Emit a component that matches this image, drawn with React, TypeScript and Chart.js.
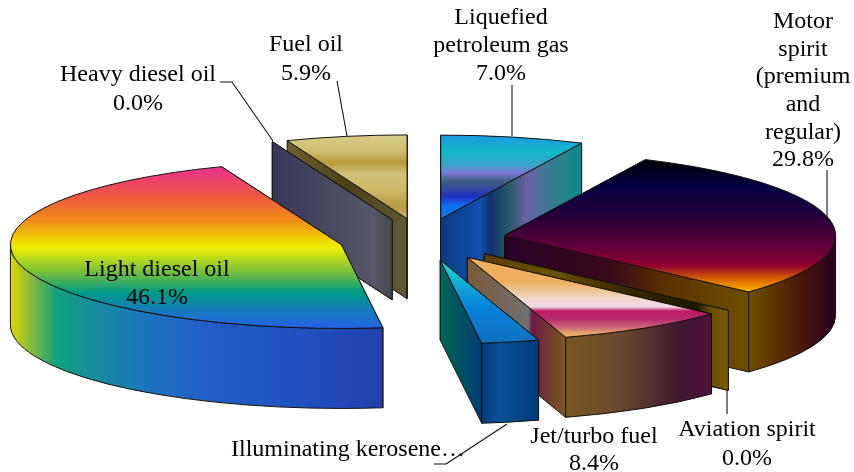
import React, { useEffect, useRef } from "react";
import { Chart, registerables } from "chart.js";

Chart.register(...registerables);

// ---- data ----
const categories = [
  "Liquefied petroleum gas",
  "Motor spirit (premium and regular)",
  "Aviation spirit",
  "Jet/turbo fuel",
  "Illuminating kerosene",
  "Light diesel oil",
  "Heavy diesel oil",
  "Fuel oil",
];
const shares = [7.0, 29.8, 0.0, 8.4, 2.8, 46.1, 0.0, 5.9];

// ---- projection of the flat pie into the tilted, extruded view ----
const PIE_RADIUS = 180;
const PIE_OFFSET = 45.5;
const SCREEN_RADIUS = 331;
const TILT = 0.253;
const DEPTH = 80;
const PAINT_ORDER = [0, 7, 6, 1, 2, 3, 5, 4];

type Stop = [number, string];
const topStops: Stop[][] = [
  [[0, "#1e98e0"], [0.19, "#10b8c8"], [0.37, "#40a0c8"], [0.45, "#7a78d8"], [0.55, "#406080"], [0.73, "#2030c0"], [0.85, "#1070f0"], [1, "#1080e0"]],
  [[0, "#000008"], [0.2, "#000040"], [0.45, "#2a0038"], [0.69, "#6a0038"], [0.8, "#900030"], [0.9, "#d86000"], [1, "#ffb800"]],
  [[0, "#6a5000"], [1, "#6a5000"]],
  [[0, "#f0b060"], [0.31, "#edb060"], [0.51, "#f0d8c8"], [0.62, "#f0d8e8"], [0.67, "#c01860"], [0.78, "#b83070"], [0.88, "#d06878"], [0.95, "#e8a868"], [1, "#f0b060"]],
  [[0, "#20e0d0"], [0.35, "#10a0d8"], [0.6, "#0880d8"], [1, "#1070c0"]],
  [[0, "#e8308c"], [0.19, "#ee5a40"], [0.33, "#f08a18"], [0.5, "#eef000"], [0.66, "#70bc40"], [0.78, "#009a88"], [0.92, "#1a74c8"], [1, "#2560e8"]],
  [[0, "#4c4c64"], [1, "#4c4c64"]],
  [[0, "#d8cc88"], [0.19, "#d0be70"], [0.33, "#b89a3e"], [0.46, "#d0c078"], [0.67, "#cdb868"], [0.85, "#b89a40"], [1, "#cdb868"]],
];
const wallStops: Stop[][] = [
  [[0, "#0a3a80"], [0.28, "#1050b0"], [0.35, "#103070"], [0.49, "#2a5a6a"], [0.61, "#6a60a8"], [0.77, "#3a7a90"], [1, "#0a8a8a"]],
  [[0, "#2a0028"], [0.33, "#3a0a18"], [0.48, "#5a3000"], [0.74, "#6e5000"], [0.89, "#4a1808"], [1, "#280020"]],
  [[0, "#5a4000"], [0.3, "#6a5000"], [0.55, "#3a2c00"], [0.87, "#1e1600"], [0.93, "#6a5000"], [1, "#7a5a08"]],
  [[0, "#7a5a38"], [0.25, "#707070"], [0.265, "#6a1848"], [0.395, "#7a5820"], [0.62, "#6a4830"], [0.87, "#401830"], [1, "#50103a"]],
  [[0, "#006858"], [0.3, "#004868"], [0.42, "#003a78"], [0.6, "#0a5098"], [1, "#003c78"]],
  [[0, "#d8d800"], [0.045, "#98c030"], [0.125, "#10a080"], [0.33, "#1c78b8"], [0.51, "#2260c8"], [0.77, "#2050c0"], [1, "#2240a8"]],
  [[0, "#363858"], [0.6, "#4c4c64"], [0.85, "#585868"], [1, "#404848"]],
  [[0, "#706030"], [0.5, "#4a4018"], [1, "#605838"]],
];

// ---- text and leader lines ----
const FONT = "24px 'Liberation Serif'";
const labelBlocks: { lines: string[]; x: number; y: number; gap: number }[] = [
  { lines: ["Liquefied", "petroleum gas", "7.0%"], x: 501, y: 18, gap: 28 },
  { lines: ["Motor", "spirit", "(premium", "and", "regular)", "29.8%"], x: 803, y: 22, gap: 27.6 },
  { lines: ["Aviation spirit", "0.0%"], x: 747, y: 430, gap: 29 },
  { lines: ["Jet/turbo fuel", "8.4%"], x: 594, y: 437, gap: 27 },
  { lines: ["Illuminating kerosene…"], x: 348, y: 450, gap: 28 },
  { lines: ["Light diesel oil", "46.1%"], x: 157, y: 270, gap: 28 },
  { lines: ["Heavy diesel oil", "0.0%"], x: 138, y: 75, gap: 29 },
  { lines: ["Fuel oil", "5.9%"], x: 306, y: 45, gap: 29 },
];
const leaders: number[][][] = [
  [[512, 85], [512, 136]],
  [[827, 170], [827, 222]],
  [[727, 390], [727, 414]],
  [[434, 464], [446, 464], [507, 424]],
  [[220, 82], [232, 82], [273, 141]],
  [[337, 81], [347, 136]],
];

function gradient(
  ctx: CanvasRenderingContext2D,
  stops: Stop[],
  x0: number,
  y0: number,
  x1: number,
  y1: number
) {
  const g = ctx.createLinearGradient(x0, y0, x1, y1);
  stops.forEach(([p, c]) => g.addColorStop(p, c));
  return g;
}

const pie3d = {
  id: "pie3d",
  afterDatasetsDraw(chart: any) {
    const ctx: CanvasRenderingContext2D = chart.ctx;
    const arcs = chart.getDatasetMeta(0).data;
    ctx.save();
    ctx.lineJoin = "round";
    for (const i of PAINT_ORDER) {
      const arc = arcs[i];
      const a0: number = arc.startAngle;
      const a1: number = arc.endAngle;
      const mid = (a0 + a1) / 2;
      const scale = SCREEN_RADIUS / arc.outerRadius;
      const off = arc.options.offset * scale;
      const cx = arc.x + off * Math.cos(mid);
      const cy = arc.y + off * Math.sin(mid) * TILT;
      const rx = arc.outerRadius * scale;
      const ry = rx * TILT;
      const px = (a: number) => cx + rx * Math.cos(a);
      const py = (a: number) => cy + ry * Math.sin(a);

      // bounding box of the top face, for the gradients
      const xs = [cx, px(a0), px(a1)];
      const ys = [cy, py(a0), py(a1)];
      for (let k = -2; k <= 4; k++) {
        const a = (k * Math.PI) / 2;
        if (a > a0 && a < a1) {
          xs.push(px(a));
          ys.push(py(a));
        }
      }
      const wallFill = gradient(ctx, wallStops[i], Math.min(...xs), 0, Math.max(...xs) + 0.01, 0);
      const topFill = gradient(ctx, topStops[i], 0, Math.min(...ys), 0, Math.max(...ys) + 0.01);

      ctx.strokeStyle = "#15120c";
      ctx.lineWidth = 1;

      // radial walls
      for (const a of [a0, a1]) {
        ctx.beginPath();
        ctx.moveTo(cx, cy);
        ctx.lineTo(px(a), py(a));
        ctx.lineTo(px(a), py(a) + DEPTH);
        ctx.lineTo(cx, cy + DEPTH);
        ctx.closePath();
        ctx.fillStyle = wallFill;
        ctx.fill();
        ctx.stroke();
      }
      // outer wall, front half only
      const s = Math.max(a0, 0);
      const e = Math.min(a1, Math.PI);
      if (e > s) {
        ctx.beginPath();
        ctx.ellipse(cx, cy, rx, ry, 0, s, e);
        ctx.ellipse(cx, cy + DEPTH, rx, ry, 0, e, s, true);
        ctx.closePath();
        ctx.fillStyle = wallFill;
        ctx.fill();
        ctx.stroke();
      }
      // top face
      if (a1 > a0) {
        ctx.beginPath();
        ctx.moveTo(cx, cy);
        ctx.ellipse(cx, cy, rx, ry, 0, a0, a1);
        ctx.closePath();
        ctx.fillStyle = topFill;
        ctx.fill();
        ctx.stroke();
      }
    }

    // leader lines
    ctx.strokeStyle = "#111";
    ctx.lineWidth = 1.1;
    for (const line of leaders) {
      ctx.beginPath();
      line.forEach(([x, y], k) => (k ? ctx.lineTo(x, y) : ctx.moveTo(x, y)));
      ctx.stroke();
    }

    // labels
    ctx.fillStyle = "#000";
    ctx.font = FONT;
    ctx.textAlign = "center";
    ctx.textBaseline = "middle";
    for (const b of labelBlocks) {
      b.lines.forEach((t, k) => ctx.fillText(t, b.x, b.y + k * b.gap));
    }
    ctx.restore();
  },
};

export default function App() {
  const ref = useRef<HTMLCanvasElement>(null);
  useEffect(() => {
    const chart = new Chart(ref.current as HTMLCanvasElement, {
      type: "pie",
      data: {
        labels: categories,
        datasets: [
          {
            data: shares,
            backgroundColor: "rgba(0,0,0,0)",
            borderWidth: 0,
            offset: PIE_OFFSET,
          },
        ],
      },
      options: {
        responsive: false,
        animation: false,
        radius: PIE_RADIUS,
        layout: { padding: { right: 9, top: 7 } },
        plugins: { legend: { display: false }, tooltip: { enabled: false } },
      } as any,
      plugins: [pie3d],
    });
    return () => chart.destroy();
  }, []);
  return (
    <div style={{ position: "absolute", left: 0, top: 0, width: 854, height: 472, background: "#fff" }}>
      <canvas ref={ref} width={854} height={472} style={{ display: "block" }} />
    </div>
  );
}
